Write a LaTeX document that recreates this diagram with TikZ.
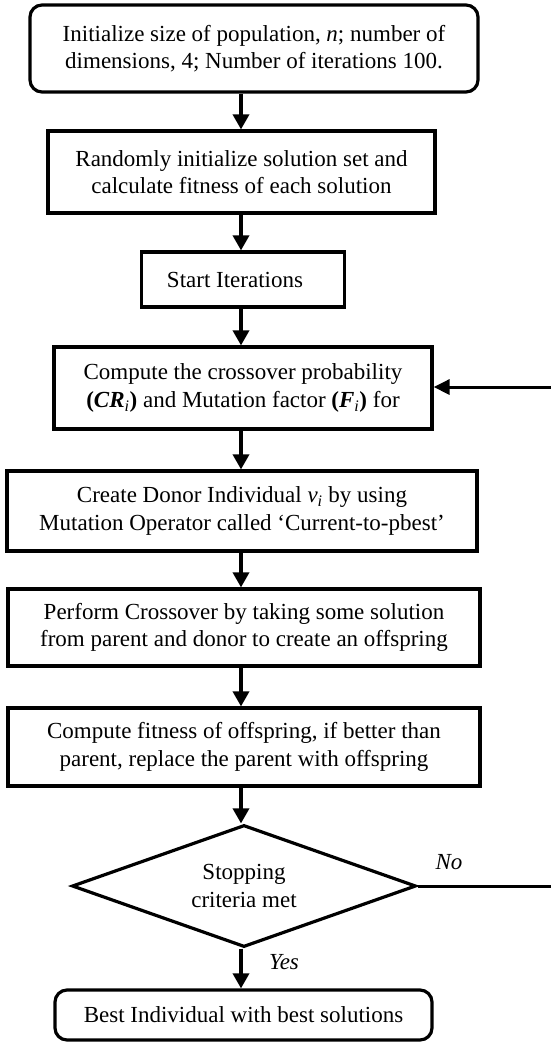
\documentclass[tikz,border=0pt]{standalone}
\usepackage{fontspec}
\setmainfont{Liberation Serif}
\usetikzlibrary{arrows.meta,shapes.geometric}
\begin{document}
\begin{tikzpicture}[x=1pt,y=-1pt,
  every node/.style={font=\fontsize{23}{27.5}\selectfont, align=center, inner sep=0pt},
  box/.style={draw, line width=3.2pt, minimum width=#1},
  rbox/.style={draw, line width=3.2pt, rounded corners=12pt, minimum width=#1},
  arr/.style={line width=3.4pt, -{Triangle[length=15pt,width=16pt]}},
  lbl/.style={font=\fontsize{23}{27}\selectfont\itshape}]
\useasboundingbox (0,0) rectangle (550,1042);
\node[rbox=448pt, minimum height=87pt] (b1) at (254,48.5)
  {Initialize size of population, \textit{n}; number of\\dimensions, 4; Number of iterations 100.};
\node[box=387pt, minimum height=82pt] (b2) at (241.5,172)
  {Randomly initialize solution set and\\calculate fitness of each solution};
\node[box=203pt, minimum height=55pt] (b3) at (243,279.5)
  {Start Iterations\hspace{16pt}};
\node[box=378pt, minimum height=82pt] (b4) at (243,388)
  {Compute the crossover probability\\\textbf{(\textit{CR}}\textsubscript{\textit{i}}\textbf{)} and Mutation factor \textbf{(\textit{F}}\textsubscript{\textit{i}}\textbf{)} for};
\node[box=470pt, minimum height=80pt] (b5) at (242,511)
  {Create Donor Individual \textit{v\textsubscript{i}} by using\\Mutation Operator called `Current-to-pbest'};
\node[box=472pt, minimum height=77pt] (b6) at (244,627.5)
  {Perform Crossover by taking some solution\\from parent and donor to create an offspring};
\node[box=472pt, minimum height=78pt] (b7) at (244,747)
  {Compute fitness of offspring, if better than\\parent, replace the parent with offspring};
\node[draw, line width=3.2pt, shape=diamond, aspect=2.8, minimum width=344pt, minimum height=122pt] (d) at (244,886)
  {Stopping\\criteria met};
\node[rbox=377pt, minimum height=50pt] (b8) at (243.5,1015)
  {Best Individual with best solutions};
\coordinate (ax) at (241,0);
\draw[arr] (b1.south -| ax) -- (b2.north -| ax);
\draw[arr] (b2.south -| ax) -- (b3.north -| ax);
\draw[arr] (b3.south -| ax) -- (b4.north -| ax);
\draw[arr] (b4.south -| ax) -- (b5.north -| ax);
\draw[arr] (b5.south -| ax) -- (b6.north -| ax);
\draw[arr] (b6.south -| ax) -- (b7.north -| ax);
\draw[arr] (b7.south -| ax) -- (d.north -| ax);
\draw[arr] (d.south -| ax) -- (b8.north -| ax);
\coordinate (r1) at (553,886);
\coordinate (r2) at (553,387);
\draw[line width=3pt, -{Triangle[length=16pt,width=15pt]}] (d.east) -- (r1) -- (r2) -- (b4.east |- r2);
\node[lbl] (no) at (449,862) {No};
\node[lbl] (yes) at (284,962) {Yes};
\end{tikzpicture}
\end{document}
